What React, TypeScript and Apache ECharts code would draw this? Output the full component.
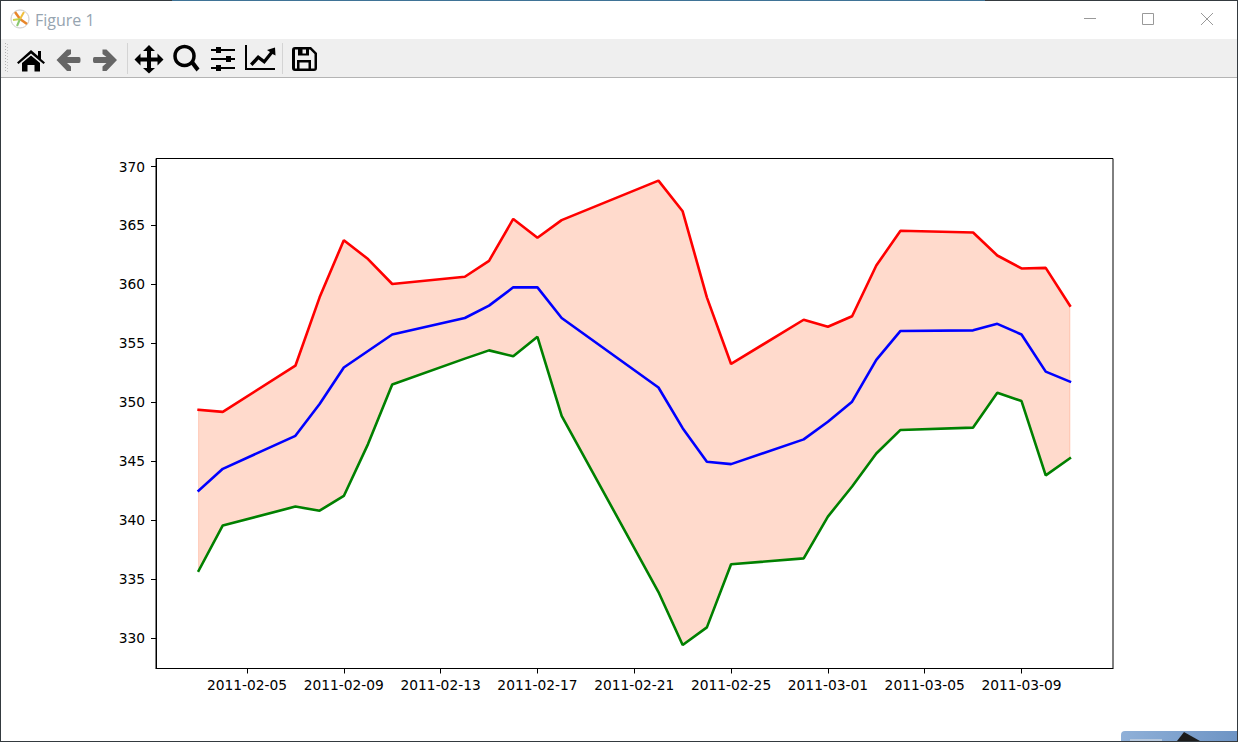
import React, { useEffect, useRef } from "react";
import * as echarts from "echarts";

const dates = [
  "2011-02-03", "2011-02-04", "2011-02-07", "2011-02-08", "2011-02-09", "2011-02-10", "2011-02-11",
  "2011-02-14", "2011-02-15", "2011-02-16", "2011-02-17", "2011-02-18", "2011-02-22", "2011-02-23",
  "2011-02-24", "2011-02-25", "2011-02-28", "2011-03-01", "2011-03-02", "2011-03-03", "2011-03-04",
  "2011-03-07", "2011-03-08", "2011-03-09", "2011-03-10", "2011-03-11",
];
const upper = [
  349.35, 349.18, 353.1, 358.9, 363.75, 362.15, 360.03, 360.65, 362.0, 365.55, 363.95, 365.45, 368.8,
  366.2, 358.9, 353.25, 357.0, 356.4, 357.3, 361.6, 364.55, 364.4, 362.45, 361.35, 361.4, 358.2,
];
const middle = [
  342.5, 344.35, 347.15, 349.85, 352.95, 354.35, 355.75, 357.15, 358.2, 359.75, 359.75, 357.15, 351.25, 347.8,
  344.95, 344.75, 346.85, 348.35, 350.05, 353.6, 356.05, 356.1, 356.65, 355.75, 352.6, 351.75,
];
const lower = [
  335.7, 339.55, 341.15, 340.8, 342.05, 346.45, 351.5, 353.7, 354.4, 353.9, 355.55, 348.85, 333.9, 329.4,
  330.9, 336.25, 336.75, 340.3, 342.85, 345.65, 347.65, 347.85, 350.8, 350.1, 343.8, 345.25,
];
const xTicks = [
  "2011-02-05", "2011-02-09", "2011-02-13", "2011-02-17", "2011-02-21", "2011-02-25", "2011-03-01",
  "2011-03-05", "2011-03-09",
];
const yTicks = [330, 335, 340, 345, 350, 355, 360, 365, 370];
const xMin = "2011-02-01 05:46:00";
const xMax = "2011-03-12 18:43:00";
const yMin = 327.41;
const yMax = 370.68;

const ICONS: Record<string, string> = {
  tbHome: "M31 50 L38 56 L38 51 L41 51 L41 59 L45 62.5 L43.5 64 L31 53.5 L18.5 64 L17 62.5 Z M22 63 L31 55.5 L40 63 L40 71.5 L34.5 71.5 L34.5 65 L27.5 65 L27.5 71.5 L22 71.5 Z",
  tbBack: "M56.5 60 L67 49.5 L71 49.5 L71 54 L67 57 L79 57 Q80.5 57 80.5 59 L80.5 61 Q80.5 63 79 63 L67 63 L71 66.5 L71 71 L67 71 Z",
  tbForward: "M117 60 L106.5 49.5 L102.5 49.5 L102.5 54 L106.5 57 L94.5 57 Q93 57 93 59 L93 61 Q93 63 94.5 63 L106.5 63 L102.5 66.5 L102.5 71 L106.5 71 Z",
  tbMove: "M149 45 L155 51 L151 51 L151 57.5 L157.5 57.5 L157.5 53.5 L163.5 59.5 L157.5 65.5 L157.5 61.5 L151 61.5 L151 68 L155 68 L149 73.5 L143 68 L147 68 L147 61.5 L140.5 61.5 L140.5 65.5 L134.5 59.5 L140.5 53.5 L140.5 57.5 L147 57.5 L147 51 L143 51 Z",
  tbZoomHandle: "M190 63 L193 60 L199.5 68.5 L196.5 71.5 Z",
  tbSliders: "M211 49 L216 49 L216 47 L221 47 L221 49 L235 49 L235 51 L221 51 L221 53 L216 53 L216 51 L211 51 Z M211 58 L226 58 L226 56 L231 56 L231 58 L235 58 L235 60 L231 60 L231 62 L226 62 L226 60 L211 60 Z M211 67 L216 67 L216 65 L221 65 L221 67 L235 67 L235 69 L221 69 L221 71 L216 71 L216 69 L211 69 Z",
  tbChart: "M245 45 L247 45 L247 68 L275 68 L275 70 L245 70 Z M250 63.5 L258 55 L264 59.5 L270 52 L267 50 L275 47.5 L275.5 55.5 L272.5 54 L264.5 64 L258.5 59.5 L252.5 66 Z",
  tbSave: "M295 47 L311 47 L317 53 L317 68 Q317 71 314 71 L295 71 Q292 71 292 68 L292 50 Q292 47 295 47 Z M295 49.5 L295 68.5 L297 68.5 L297 60 L311 60 L311 68.5 L314.5 68.5 L314.5 54 L310 49.5 L309 49.5 L309 55.5 L298 55.5 L298 49.5 Z M299.5 62.5 L299.5 68.5 L308.5 68.5 L308.5 62.5 Z M302.5 49.5 L302.5 53.5 L306 53.5 L306 49.5 Z",
};
Object.entries(ICONS).forEach(([name, d]) => {
  echarts.graphic.registerShape(name, echarts.graphic.extendPath(d, {}));
});

function chrome(): any[] {
  const els: any[] = [];
  const rect = (x: number, y: number, width: number, height: number, fill: any) =>
    els.push({ type: "rect", shape: { x, y, width, height }, style: { fill }, silent: true });
  const line = (x1: number, y1: number, x2: number, y2: number, stroke: string, lineWidth = 1) =>
    els.push({ type: "line", shape: { x1, y1, x2, y2 }, style: { stroke, lineWidth }, silent: true });
  const icon = (type: string, fill: string) => els.push({ type, x: 0, y: 0, style: { fill }, silent: true });

  rect(0, 39, 1238, 38, "#efefef");
  rect(0, 77, 1238, 1, "#b4b4b4");
  rect(172, 0, 813, 1, "#3f7396");
  rect(0, 0, 172, 1, "#343a3f");
  rect(985, 0, 253, 1, "#343a3f");
  rect(0, 0, 1, 742, "#343a3f");
  rect(1237, 0, 1, 742, "#343a3f");
  rect(0, 741, 1238, 1, "#343a3f");

  // title icon
  els.push({ type: "circle", shape: { cx: 20, cy: 19, r: 9 }, style: { fill: "#fff", stroke: "#c8c8c8", lineWidth: 1 }, silent: true });
  line(20, 19, 15, 12, "#e8862a", 2.5);
  line(20, 19, 27, 24, "#e8862a", 2.5);
  line(20, 19, 24, 12, "#f0c040", 2);
  line(20, 19, 13, 20, "#c8d24a", 2);
  line(20, 19, 17, 26, "#8cc870", 2);
  els.push({
    type: "text", x: 35, y: 20,
    style: { text: "Figure 1", fill: "#96a4b0", font: '16px "Open Sans"', textVerticalAlign: "middle" },
    silent: true,
  });
  // window buttons
  line(1084, 18.5, 1096, 18.5, "#999");
  els.push({ type: "rect", shape: { x: 1142.5, y: 13.5, width: 11, height: 11 }, style: { fill: "none", stroke: "#999", lineWidth: 1 }, silent: true });
  line(1201, 13, 1213, 25, "#999");
  line(1213, 13, 1201, 25, "#999");

  // grip
  for (let y = 43; y <= 71; y += 3) {
    rect(5, y, 1, 1, "#b0b0b0");
    rect(7, y + 1, 1, 1, "#c4c4c4");
  }
  // separators
  rect(127, 43, 1, 31, "#d4d4d4");
  rect(282, 43, 1, 31, "#d4d4d4");

  icon("tbHome", "#000");
  icon("tbBack", "#666");
  icon("tbForward", "#666");
  icon("tbMove", "#000");
  els.push({ type: "circle", shape: { cx: 184.5, cy: 56, r: 9.5 }, style: { fill: "none", stroke: "#000", lineWidth: 3.5 }, silent: true });
  icon("tbZoomHandle", "#000");
  icon("tbSliders", "#000");
  icon("tbChart", "#000");
  icon("tbSave", "#000");

  // neighbouring window peeking in at the corner
  els.push({
    type: "rect", shape: { x: 1121, y: 731, width: 116, height: 10, r: [4, 0, 0, 0] },
    style: {
      fill: new echarts.graphic.LinearGradient(0, 0, 1, 0, [
        { offset: 0, color: "#8fb0d8" },
        { offset: 1, color: "#6e94c4" },
      ]),
    },
    silent: true,
  });
  rect(1130, 739, 32, 2, "#b6c8de");
  els.push({ type: "polygon", shape: { points: [[1177, 741], [1184, 732], [1200, 741]] }, style: { fill: "#1c1c1c" }, silent: true });
  return els;
}

export default function App() {
  const ref = useRef<HTMLDivElement>(null);
  useEffect(() => {
    document.body.style.margin = "0";
    document.body.style.background = "#fff";
    const chart = echarts.init(ref.current!, undefined, { renderer: "svg" });
    const ts = (d: string) => +echarts.time.parse(d);
    const xTickValues = xTicks.map(ts);
    const font = { fontFamily: "DejaVu Sans", fontSize: 13.8, color: "#000" };
    chart.setOption({
      animation: false,
      backgroundColor: "#fff",
      grid: {
        show: true, left: 156, top: 158.5, width: 957, height: 510,
        borderColor: "#000", borderWidth: 1, backgroundColor: "#fff", containLabel: false,
      },
      xAxis: {
        type: "value", min: ts(xMin), max: ts(xMax), scale: true, splitLine: { show: false },
        axisLine: { show: true, onZero: false, lineStyle: { color: "#000", width: 1 } },
        axisTick: { show: true, length: 5, lineStyle: { color: "#000", width: 1 }, customValues: xTickValues },
        axisLabel: {
          ...font, margin: 9, hideOverlap: false, customValues: xTickValues,
          formatter: (v: number) => echarts.time.format(v, "{yyyy}-{MM}-{dd}", false),
        },
      },
      yAxis: {
        type: "value", min: yMin, max: yMax, scale: true, splitLine: { show: false },
        axisLine: { show: true, onZero: false, lineStyle: { color: "#000", width: 1 } },
        axisTick: { show: true, length: 5, lineStyle: { color: "#000", width: 1 }, customValues: yTicks },
        axisLabel: { ...font, margin: 11, customValues: yTicks },
      },
      series: [
        {
          type: "custom", name: "band", coordinateSystem: "cartesian2d", silent: true, z: 1,
          data: [[ts(dates[0]), lower[0]]],
          renderItem: (_p: any, api: any) => {
            const top = dates.map((d, i) => api.coord([ts(d), upper[i]]));
            const bot = dates.map((d, i) => api.coord([ts(d), lower[i]])).reverse();
            return {
              type: "polygon",
              shape: { points: [...top, ...bot] },
              style: { fill: "rgba(255,69,0,0.2)", stroke: "rgba(255,69,0,0.2)", lineWidth: 1 },
            };
          },
        },
        ...[
          { name: "upper", values: upper, color: "#ff0000" },
          { name: "lower", values: lower, color: "#008000" },
          { name: "middle", values: middle, color: "#0000ff" },
        ].map((s) => ({
          type: "line", name: s.name, z: 3, showSymbol: false, symbol: "none", silent: true,
          data: dates.map((d, i) => [ts(d), s.values[i]]),
          lineStyle: { color: s.color, width: 2.6, cap: "square" },
        })),
      ],
      graphic: { elements: chrome() },
    });
    return () => chart.dispose();
  }, []);
  return <div ref={ref} style={{ position: "fixed", left: 0, top: 0, width: 1238, height: 742 }} />;
}
